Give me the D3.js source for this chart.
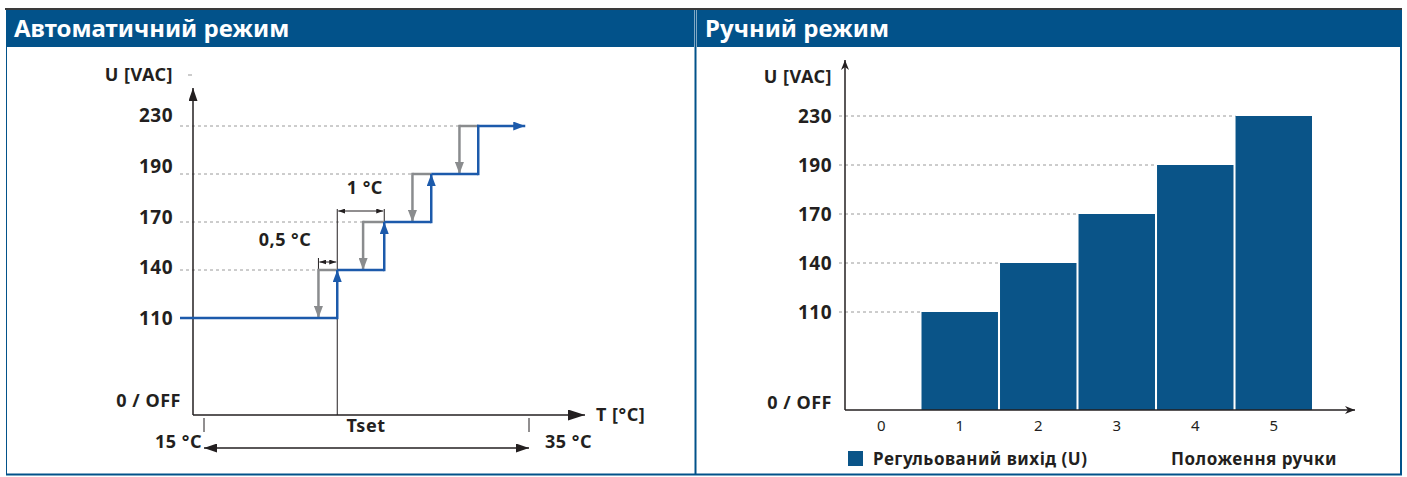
<!DOCTYPE html>
<html>
<head>
<meta charset="utf-8">
<script src="https://cdn.jsdelivr.net/npm/d3@7/dist/d3.min.js"></script>
<style>
  html, body { margin: 0; padding: 0; background: #fff; }
  svg { display: block; }
  text { font-family: "Noto Sans", "Open Sans", sans-serif; }
</style>
</head>
<body>
<svg id="chart" width="1407" height="477"></svg>
<script>
// ---------- DATA ----------
const panelTitles = ["Автоматичний режим", "Ручний режим"];
const voltageLevels = ["110", "140", "170", "190", "230"];
const offLabel = "0 / OFF";
const yAxisTitle = "U [VAC]";

// Automatic mode: switching points in °C relative to Tset
const autoStepLevels = ["110", "140", "170", "190", "230"];
const switchUp = [0, 1, 2, 3];            // blue, rising temperature
const switchDown = [-0.4, 0.55, 1.6, 2.6]; // grey, falling temperature
const autoLineEnd = 4;
const tRange = [15, 35];
const tSet = 23.2;
const tRangeLabels = ["15 °C", "35 °C"];
const tSetLabel = "Tset";
const tAxisTitle = "T [°C]";
const hystLabel = "0,5 °C";
const stepLabel = "1 °C";

// Manual mode
const knobPositions = ["0", "1", "2", "3", "4", "5"];
const knobOutput = ["0 / OFF", "110", "140", "170", "190", "230"];
const legendLabel = "Регульований вихід (U)";
const xAxisTitleManual = "Положення ручки";

// ---------- STYLE ----------
const headerBlue = "#02528a";
const barBlue = "#0a5488";
const stepBlue = "#1c5aab";
const stepGrey = "#8a8c8e";
const ink = "#231f20";

const svg = d3.select("#chart");
svg.append("rect").attr("width", 1407).attr("height", 477).attr("fill", "#fff");

const defs = svg.append("defs");
function marker(id, color, w, h) {
  defs.append("marker")
    .attr("id", id).attr("markerUnits", "userSpaceOnUse")
    .attr("viewBox", `0 ${-h/2} ${w} ${h}`)
    .attr("refX", w).attr("refY", 0)
    .attr("markerWidth", w).attr("markerHeight", h)
    .attr("orient", "auto-start-reverse")
    .append("path").attr("d", `M0,${-h/2}L${w},0L0,${h/2}Z`).attr("fill", color);
}
marker("arrBlack", ink, 13, 9);
marker("arrBlue", stepBlue, 12, 9);
marker("arrGrey", stepGrey, 12, 9);
marker("arrSmall", ink, 7, 5);
marker("arrBig", ink, 17, 11);
defs.append("marker").attr("id", "arrSmallAx").attr("markerUnits", "userSpaceOnUse")
  .attr("viewBox", "0 -4 10 8").attr("refX", 10).attr("refY", 0)
  .attr("markerWidth", 10).attr("markerHeight", 8).attr("orient", "auto")
  .append("path").attr("d", "M0,-4L10,0L0,4L3,0Z").attr("fill", ink);

// ---------- FRAME ----------
svg.append("line").attr("x1", 5).attr("x2", 1402).attr("y1", 9).attr("y2", 9)
  .attr("stroke", "#3a3a3a").attr("stroke-width", 2);
const panels = [{x0: 6, x1: 694}, {x0: 697, x1: 1401}];
svg.selectAll("rect.hdr").data(panels).join("rect").attr("class", "hdr")
  .attr("x", d => d.x0).attr("y", 10).attr("width", d => d.x1 - d.x0).attr("height", 37)
  .attr("fill", headerBlue);
svg.selectAll("text.hdr").data(panelTitles).join("text").attr("class", "hdr")
  .attr("x", (d, i) => panels[i].x0 + 8).attr("y", 37)
  .attr("fill", "#fff").attr("font-weight", 700).attr("font-size", 24)
  .text(d => d);
const frame = svg.append("g").attr("stroke", headerBlue).attr("fill", "none");
frame.append("line").attr("x1", 6.5).attr("x2", 6.5).attr("y1", 10).attr("y2", 475);
frame.append("line").attr("x1", 695.5).attr("x2", 695.5).attr("y1", 10).attr("y2", 475).attr("stroke-width", 2);
frame.append("line").attr("x1", 1401).attr("x2", 1401).attr("y1", 10).attr("y2", 475).attr("stroke-width", 2);
frame.append("line").attr("x1", 6).attr("x2", 1402).attr("y1", 474.5).attr("y2", 474.5).attr("stroke-width", 2);

const labelFont = (sel, size) => sel.attr("font-weight", 700).attr("font-size", size || 18)
  .attr("letter-spacing", 0.5).attr("fill", ink);

// ---------- LEFT: AUTOMATIC MODE ----------
const L = svg.append("g");
const axL = {x: 193, y: 415, top: 88, right: 585};
const yL = d3.scalePoint().domain(voltageLevels).range([318, 126]);
const yLabelL = d3.scalePoint().domain(voltageLevels).range([318, 115]);
const xT = d3.scaleLinear().domain(tRange).range([204, 529]);
const xStep = d3.scaleLinear().domain([0, 1]).range([xT(tSet), xT(tSet) + 47]);

L.selectAll("line.grid").data(autoStepLevels.slice(1)).join("line").attr("class", "grid")
  .attr("x1", 180).attr("x2", (d, i) => xStep(switchDown[i]))
  .attr("y1", d => yL(d)).attr("y2", d => yL(d))
  .attr("stroke", "#9a9a9a").attr("stroke-width", 1).attr("stroke-dasharray", "3,3");

L.append("line").attr("x1", axL.x).attr("x2", axL.x).attr("y1", axL.y).attr("y2", axL.top)
  .attr("stroke", ink).attr("stroke-width", 1.5).attr("marker-end", "url(#arrBlack)");
L.append("line").attr("x1", axL.x).attr("x2", axL.right).attr("y1", axL.y).attr("y2", axL.y)
  .attr("stroke", ink).attr("stroke-width", 1.5).attr("marker-end", "url(#arrBig)");
L.append("line").attr("x1", 188).attr("x2", 192).attr("y1", 75).attr("y2", 75).attr("stroke", "#999");

L.append("text").attr("x", 173).attr("y", 81).attr("text-anchor", "end").call(labelFont).text(yAxisTitle);
L.selectAll("text.yl").data(voltageLevels).join("text").attr("class", "yl")
  .attr("x", 173).attr("y", d => yLabelL(d) + 7).attr("text-anchor", "end").call(labelFont, 19).text(d => d);
L.append("text").attr("x", 181).attr("y", 407).attr("text-anchor", "end").call(labelFont).text(offLabel);

L.selectAll("line.tt").data(tRange).join("line").attr("class", "tt")
  .attr("x1", d => xT(d)).attr("x2", d => xT(d)).attr("y1", 418).attr("y2", 432)
  .attr("stroke", ink).attr("stroke-width", 1);
L.append("line").attr("x1", xT(tRange[0])).attr("x2", xT(tRange[1])).attr("y1", 448).attr("y2", 448)
  .attr("stroke", ink).attr("stroke-width", 1.3)
  .attr("marker-start", "url(#arrBlack)").attr("marker-end", "url(#arrBlack)");
L.append("text").attr("x", 202).attr("y", 448).attr("text-anchor", "end").call(labelFont).text(tRangeLabels[0]);
L.append("text").attr("x", 545).attr("y", 448).attr("text-anchor", "start").call(labelFont).text(tRangeLabels[1]);
L.append("text").attr("x", 596).attr("y", 421).call(labelFont).text(tAxisTitle);
L.append("text").attr("x", 366).attr("y", 432).attr("text-anchor", "middle").call(labelFont).text(tSetLabel);

const x0 = xStep(0);
L.append("line").attr("x1", x0).attr("x2", x0).attr("y1", axL.y).attr("y2", 209)
  .attr("stroke", ink).attr("stroke-width", 1);
L.append("line").attr("x1", xStep(1)).attr("x2", xStep(1)).attr("y1", 209).attr("y2", yL("170"))
  .attr("stroke", ink).attr("stroke-width", 1);
L.append("line").attr("x1", x0 + 1).attr("x2", xStep(1) - 1).attr("y1", 211).attr("y2", 211)
  .attr("stroke", ink).attr("stroke-width", 1)
  .attr("marker-start", "url(#arrSmall)").attr("marker-end", "url(#arrSmall)");
L.append("text").attr("x", (x0 + xStep(1)) / 2 + 4).attr("y", 194).attr("text-anchor", "middle").call(labelFont).text(stepLabel);
const xd0 = xStep(switchDown[0]);
L.append("line").attr("x1", xd0).attr("x2", xd0).attr("y1", 258).attr("y2", yL("140"))
  .attr("stroke", ink).attr("stroke-width", 1);
L.append("line").attr("x1", xd0 + 1).attr("x2", x0 - 1).attr("y1", 262).attr("y2", 262)
  .attr("stroke", ink).attr("stroke-width", 1)
  .attr("marker-start", "url(#arrSmall)").attr("marker-end", "url(#arrSmall)");
L.append("text").attr("x", 285).attr("y", 246).attr("text-anchor", "middle").call(labelFont).text(hystLabel);

switchDown.forEach((t, i) => {
  const yHi = yL(autoStepLevels[i + 1]), yLo = yL(autoStepLevels[i]);
  L.append("line").attr("x1", xStep(t)).attr("x2", xStep(switchUp[i])).attr("y1", yHi).attr("y2", yHi)
    .attr("stroke", stepGrey).attr("stroke-width", 2.5);
  L.append("line").attr("x1", xStep(t)).attr("x2", xStep(t)).attr("y1", yHi - 1.2).attr("y2", yLo)
    .attr("stroke", stepGrey).attr("stroke-width", 2.5).attr("marker-end", "url(#arrGrey)");
});

L.append("line").attr("x1", 180).attr("x2", xStep(switchUp[0])).attr("y1", yL(autoStepLevels[0])).attr("y2", yL(autoStepLevels[0]))
  .attr("stroke", stepBlue).attr("stroke-width", 2.5);
switchUp.forEach((t, i) => {
  const yLo = yL(autoStepLevels[i]), yHi = yL(autoStepLevels[i + 1]);
  const xEnd = i + 1 < switchUp.length ? xStep(switchUp[i + 1]) : null;
  L.append("line").attr("x1", xStep(t)).attr("x2", xStep(t)).attr("y1", yLo + 1.2).attr("y2", i < 3 ? yHi : yHi - 1.2)
    .attr("stroke", stepBlue).attr("stroke-width", 2.5).attr("marker-end", i < 3 ? "url(#arrBlue)" : null);
  if (xEnd !== null) {
    L.append("line").attr("x1", xStep(t)).attr("x2", xEnd).attr("y1", yHi).attr("y2", yHi)
      .attr("stroke", stepBlue).attr("stroke-width", 2.5);
  }
});
L.append("line").attr("x1", xStep(switchUp[3]) - 1.2).attr("x2", xStep(autoLineEnd))
  .attr("y1", yL(autoStepLevels[4])).attr("y2", yL(autoStepLevels[4]))
  .attr("stroke", stepBlue).attr("stroke-width", 2.5).attr("marker-end", "url(#arrBlue)");

// ---------- RIGHT: MANUAL MODE ----------
const R = svg.append("g");
const axR = {x: 845, y: 410, top: 60, right: 1355};
const yR = d3.scalePoint().domain(voltageLevels).range([312, 116]);
const yRv = v => v === offLabel ? axR.y : yR(v);
const xR = d3.scaleBand().domain(knobPositions).range([843, 1312]).paddingInner(0.026).paddingOuter(0);

R.selectAll("line.grid").data(voltageLevels).join("line").attr("class", "grid")
  .attr("x1", 839).attr("x2", (d, i) => xR(knobPositions[i + 1]))
  .attr("y1", d => yR(d)).attr("y2", d => yR(d))
  .attr("stroke", "#9a9a9a").attr("stroke-width", 1).attr("stroke-dasharray", "3,3");

R.selectAll("rect.bar").data(knobPositions.map((p, i) => ({p, v: knobOutput[i]})).filter(d => d.v !== offLabel))
  .join("rect").attr("class", "bar")
  .attr("x", d => xR(d.p)).attr("width", xR.bandwidth())
  .attr("y", d => yRv(d.v)).attr("height", d => axR.y - yRv(d.v))
  .attr("fill", barBlue);

R.append("line").attr("x1", axR.x).attr("x2", axR.x).attr("y1", axR.y).attr("y2", axR.top)
  .attr("stroke", ink).attr("stroke-width", 1.5).attr("marker-end", "url(#arrSmallAx)");
R.append("line").attr("x1", axR.x).attr("x2", axR.right).attr("y1", axR.y).attr("y2", axR.y)
  .attr("stroke", ink).attr("stroke-width", 1.5).attr("marker-end", "url(#arrSmallAx)");

R.append("text").attr("x", 832).attr("y", 83).attr("text-anchor", "end").call(labelFont).text(yAxisTitle);
R.selectAll("text.yl").data(voltageLevels).join("text").attr("class", "yl")
  .attr("x", 832).attr("y", d => yR(d) + 7).attr("text-anchor", "end").call(labelFont, 19).text(d => d);
R.append("text").attr("x", 832).attr("y", 409).attr("text-anchor", "end").call(labelFont).text(offLabel);

R.selectAll("text.xl").data(knobPositions).join("text").attr("class", "xl")
  .attr("x", d => xR(d) + xR.bandwidth() / 2).attr("y", 431).attr("text-anchor", "middle")
  .attr("font-size", 15).attr("fill", ink).text(d => d);

R.append("rect").attr("x", 848).attr("y", 451).attr("width", 15).attr("height", 15).attr("fill", barBlue);
R.append("text").attr("x", 873).attr("y", 465).call(labelFont, 17).text(legendLabel);
R.append("text").attr("x", 1337).attr("y", 465).attr("text-anchor", "end").call(labelFont, 17).text(xAxisTitleManual);
</script>
</body>
</html>
